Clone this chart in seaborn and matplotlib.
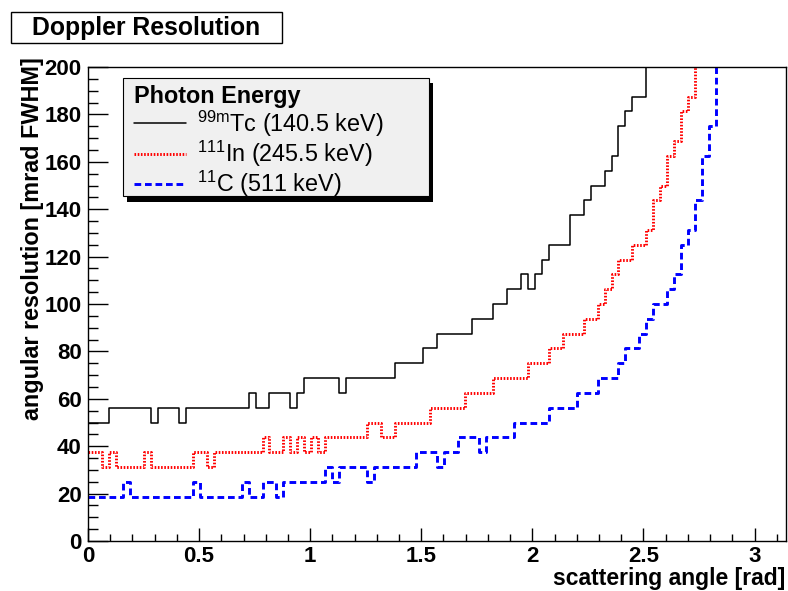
import numpy as np
import pandas as pd
import matplotlib
matplotlib.use("Agg")
import matplotlib.pyplot as plt
from matplotlib.patches import Rectangle
from matplotlib.ticker import MultipleLocator
import seaborn as sns

# ---------------- data (100 bins from 0 to pi) ----------------
X_MIN, X_MAX, N_BINS = 0.0, np.pi, 100
Y_MIN, Y_MAX = 0, 200

tc_99m = [50, 50, 50, 56.25, 56.25, 56.25, 56.25, 56.25, 56.25, 50,
          56.25, 56.25, 56.25, 50, 56.25, 56.25, 56.25, 56.25, 56.25, 56.25,
          56.25, 56.25, 56.25, 62.5, 56.25, 56.25, 62.5, 62.5, 62.5, 56.25,
          62.5, 68.75, 68.75, 68.75, 68.75, 68.75, 62.5, 68.75, 68.75, 68.75,
          68.75, 68.75, 68.75, 68.75, 75, 75, 75, 75, 81.25, 81.25,
          87.5, 87.5, 87.5, 87.5, 87.5, 93.75, 93.75, 93.75, 100, 100,
          106.25, 106.25, 112.5, 106.25, 112.5, 118.75, 125, 125, 125, 137.5,
          137.5, 143.75, 150, 150, 156.25, 162.5, 175, 181.25, 187.5, 187.5,
          206.25, 212.5, 225, 237.5, 250, 268.75, 287.5, 312.5, 337.5, 368.75,
          400, 437.5, 481.25, 531.25, 593.75, 662.5, 750, 850, 975, 1125]

in_111 = [37.5, 37.5, 31.25, 37.5, 31.25, 31.25, 31.25, 31.25, 37.5, 31.25,
          31.25, 31.25, 31.25, 31.25, 31.25, 37.5, 37.5, 31.25, 37.5, 37.5,
          37.5, 37.5, 37.5, 37.5, 37.5, 43.75, 37.5, 37.5, 43.75, 37.5,
          43.75, 37.5, 43.75, 37.5, 43.75, 43.75, 43.75, 43.75, 43.75, 43.75,
          50, 50, 43.75, 43.75, 50, 50, 50, 50, 50, 56.25,
          56.25, 56.25, 56.25, 56.25, 62.5, 62.5, 62.5, 62.5, 68.75, 68.75,
          68.75, 68.75, 68.75, 75, 75, 75, 81.25, 81.25, 87.5, 87.5,
          87.5, 93.75, 93.75, 100, 106.25, 112.5, 118.75, 118.75, 125, 125,
          131.25, 143.75, 150, 162.5, 168.75, 181.25, 187.5, 206.25, 225, 243.75,
          268.75, 293.75, 325, 362.5, 406.25, 462.5, 531.25, 618.75, 737.5, 900]

c_11 = [18.75, 18.75, 18.75, 18.75, 18.75, 25, 18.75, 18.75, 18.75, 18.75,
        18.75, 18.75, 18.75, 18.75, 18.75, 25, 18.75, 18.75, 18.75, 18.75,
        18.75, 18.75, 25, 18.75, 18.75, 25, 25, 18.75, 25, 25,
        25, 25, 25, 25, 31.25, 25, 31.25, 31.25, 31.25, 31.25,
        25, 31.25, 31.25, 31.25, 31.25, 31.25, 31.25, 37.5, 37.5, 37.5,
        31.25, 37.5, 37.5, 43.75, 43.75, 43.75, 37.5, 43.75, 43.75, 43.75,
        43.75, 50, 50, 50, 50, 50, 56.25, 56.25, 56.25, 56.25,
        62.5, 62.5, 62.5, 68.75, 68.75, 68.75, 75, 81.25, 81.25, 87.5,
        93.75, 100, 100, 106.25, 112.5, 125, 131.25, 143.75, 162.5, 175,
        206.25, 231.25, 262.5, 300, 350, 412.5, 493.75, 600, 743.75, 937.5]

series_labels = [r"$^{99m}$Tc (140.5 keV)", r"$^{111}$In (245.5 keV)", r"$^{11}$C (511 keV)"]
legend_title = "Photon Energy"
chart_title = "Doppler Resolution"
x_label = "scattering angle [rad]"
y_label = "angular resolution [mrad FWHM]"
x_ticks = [0, 0.5, 1, 1.5, 2, 2.5, 3]
x_tick_labels = ["0", "0.5", "1", "1.5", "2", "2.5", "3"]
y_ticks = [0, 20, 40, 60, 80, 100, 120, 140, 160, 180, 200]
y_tick_labels = ["0", "20", "40", "60", "80", "100", "120", "140", "160", "180", "200"]

# ---------------- style ----------------
sns.set_style("white")
plt.rcParams["font.family"] = ["Liberation Sans", "DejaVu Sans"]
plt.rcParams["mathtext.fontset"] = "custom"
plt.rcParams["mathtext.rm"] = "Liberation Sans"
plt.rcParams["mathtext.it"] = "Liberation Sans:italic"
plt.rcParams["mathtext.bf"] = "Liberation Sans:bold"
plt.rcParams["mathtext.default"] = "regular"
for key in ["text.color", "axes.labelcolor", "xtick.color", "ytick.color",
            "axes.edgecolor"]:
    plt.rcParams[key] = "black"

W, H = 788, 591
fig = plt.figure(figsize=(W / 100, H / 100), dpi=100)
fig.patch.set_facecolor("white")
ax = fig.add_axes([88 / W, 50 / H, 698 / W, 474 / H])
ax.set_facecolor("white")

edges = np.linspace(X_MIN, X_MAX, N_BINS + 1)
styles = [
    dict(color="black", linewidth=1.1, linestyle="-", zorder=3),
    dict(color="#ff0000", linewidth=2.1, linestyle=(0, (0.55, 0.55)), zorder=2),
    dict(color="#0000ff", linewidth=2.1, linestyle=(0, (2.3, 1.3)), zorder=2),
]
clip_to_frame = [True, False, False]   # overflow of the solid histogram runs along the frame top
for vals, lab, st, clip in zip([tc_99m, in_111, c_11], series_labels, styles, clip_to_frame):
    v = np.asarray(vals, dtype=float)
    if clip:
        v = np.minimum(v, Y_MAX)
    df = pd.DataFrame({"x": edges, "y": np.append(v, v[-1])})
    sns.lineplot(data=df, x="x", y="y", drawstyle="steps-post", errorbar=None,
                 estimator=None, sort=False, label=lab, ax=ax, **st)

ax.set_xlim(X_MIN, X_MAX)
ax.set_ylim(Y_MIN, Y_MAX)
ax.set_xticks(x_ticks, x_tick_labels, fontsize=16, fontweight="bold")
ax.set_yticks(y_ticks, y_tick_labels, fontsize=16, fontweight="bold")
ax.xaxis.set_minor_locator(MultipleLocator(0.1))
ax.yaxis.set_minor_locator(MultipleLocator(5))
ax.tick_params(axis="x", which="major", direction="in", length=9.4, width=1,
               pad=3.6, bottom=True, top=False, colors="black")
ax.tick_params(axis="x", which="minor", direction="in", length=4.8, width=1,
               bottom=True, top=False)
ax.tick_params(axis="y", which="major", direction="in", length=14.4, width=1,
               pad=4.5, left=True, right=False, colors="black")
ax.tick_params(axis="y", which="minor", direction="in", length=7.2, width=1,
               left=True, right=False)
for sp in ax.spines.values():
    sp.set_visible(True)
    sp.set_color("black")
    sp.set_linewidth(1.0)

ax.set_xlabel(x_label, fontsize=16.5, fontweight="bold", loc="right")
ax.xaxis.set_label_coords(0.9986, -0.055)
ax.set_ylabel(y_label, fontsize=16.8, fontweight="bold", loc="top")
ax.yaxis.set_label_coords(-0.063, 1.021)

# legend box (ROOT style: light grey box with solid black drop shadow)
ax_w, ax_h = 698, 474
box_l, box_t, box_r, box_b = 123, 78, 429, 196   # figure pixels
sh_dx, sh_dy = 3.5, 5.5
def ax_frac(px, py):
    return ((px - 88) / ax_w, (541 - py) / ax_h)
x0, y0 = ax_frac(box_l, box_b)
ax.add_patch(Rectangle((x0 + sh_dx / ax_w, y0 - sh_dy / ax_h),
                       (box_r - box_l) / ax_w, (box_b - box_t) / ax_h,
                       transform=ax.transAxes, facecolor="black",
                       edgecolor="black", linewidth=0, zorder=4, clip_on=False))
ax.add_patch(Rectangle((x0, y0), (box_r - box_l) / ax_w, (box_b - box_t) / ax_h,
                       transform=ax.transAxes, facecolor="#f0f0f0",
                       edgecolor="black", linewidth=0.8, zorder=4.5, clip_on=False))

handles, labels = ax.get_legend_handles_labels()
lx, ly = ax_frac(130, 82)
leg = ax.legend(handles, labels, title=legend_title, loc="upper left",
                bbox_to_anchor=(lx, ly), borderaxespad=0, frameon=False,
                fontsize=16.8, handlelength=2.27, handletextpad=0.47,
                labelspacing=0.0, borderpad=0.15, alignment="left",
                title_fontproperties={"weight": "bold", "size": 16.8})
leg.set_zorder(5)
for t in leg.get_texts():
    t.set_color("black")
leg.get_title().set_color("black")

# title box
fig.patches.append(Rectangle((11 / W, 1 - 43 / H), 271 / W, 31 / H,
                             transform=fig.transFigure, facecolor="white",
                             edgecolor="black", linewidth=1.0))
fig.text(146.5 / W, 1 - 28 / H, chart_title, ha="center", va="center",
         fontsize=17.8, fontweight="bold", color="black")

fig.savefig("out.png", dpi=100)
